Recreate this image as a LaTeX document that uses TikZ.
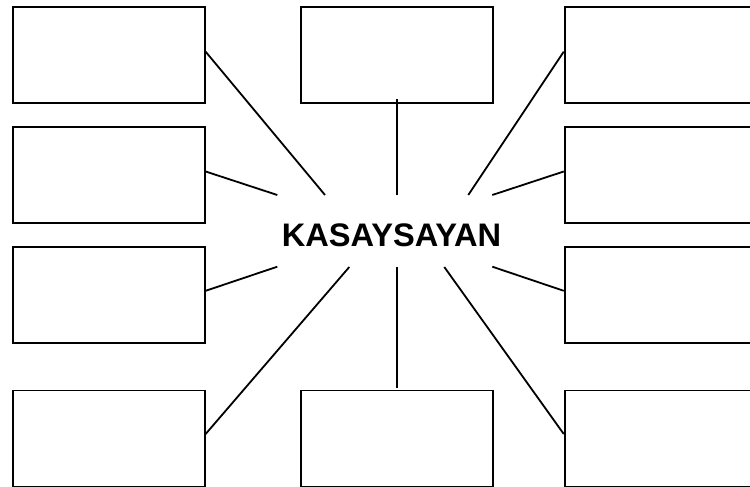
\documentclass[tikz,border=0pt]{standalone}
\usepackage{fontspec}
\setmainfont{Liberation Sans}
\begin{document}
\begin{tikzpicture}[x=1pt,y=-1pt,
  box/.style={draw, line width=1.9pt, rectangle, inner sep=0pt, minimum width=192pt, minimum height=96pt},
  rbox/.style={box, minimum width=200pt},
  conn/.style={line width=1.8pt}]
\clip (0,0) rectangle (750,487);
\fill[white] (0,0) rectangle (750,487);
% left column
\node[box] (L1) at (108.7,55.2) {};
\node[box] (L2) at (108.7,175) {};
\node[box] (L3) at (108.7,295.3) {};
\node[box] (L4) at (108.7,438.5) {};
% middle column
\node[box] (M1) at (397,55.2) {};
\node[box] (M2) at (397,438.5) {};
% right column (cut by the right edge)
\node[rbox] (R1) at (664.7,55.2) {};
\node[rbox] (R2) at (664.7,175) {};
\node[rbox] (R3) at (664.7,295.3) {};
\node[rbox] (R4) at (664.7,438.5) {};
% centre
\node[font=\bfseries\fontsize{32.6}{32.6}\selectfont, inner sep=0pt] (C) at (391.5,235) {KASAYSAYAN};
% free ends near the centre
\coordinate (cL1) at (325,195);
\coordinate (cL2) at (277.3,195);
\coordinate (cL3) at (277.3,266.7);
\coordinate (cL4) at (349.3,267);
\coordinate (cM1a) at (396.7,99.3);
\coordinate (cM1) at (396.7,195);
\coordinate (cM2) at (396.7,267);
\coordinate (cM2b) at (396.7,387.7);
\coordinate (cR1) at (468.3,195);
\coordinate (cR2) at (492.3,195);
\coordinate (cR3) at (492.3,266.7);
\coordinate (cR4) at (444.3,267);
% connectors
\draw[conn] ([yshift=3.5pt]L1.east) -- (cL1);
\draw[conn] ([yshift=3.5pt]L2.east) -- (cL2);
\draw[conn] ([yshift=4.5pt]L3.east) -- (cL3);
\draw[conn] ([yshift=4.5pt]L4.east) -- (cL4);
\draw[conn] (cM1a) -- (cM1);
\draw[conn] (cM2) -- (cM2b);
\draw[conn] ([yshift=3.5pt]R1.west) -- (cR1);
\draw[conn] ([yshift=3.5pt]R2.west) -- (cR2);
\draw[conn] ([yshift=4.5pt]R3.west) -- (cR3);
\draw[conn] ([yshift=4.5pt]R4.west) -- (cR4);
\end{tikzpicture}
\end{document}
